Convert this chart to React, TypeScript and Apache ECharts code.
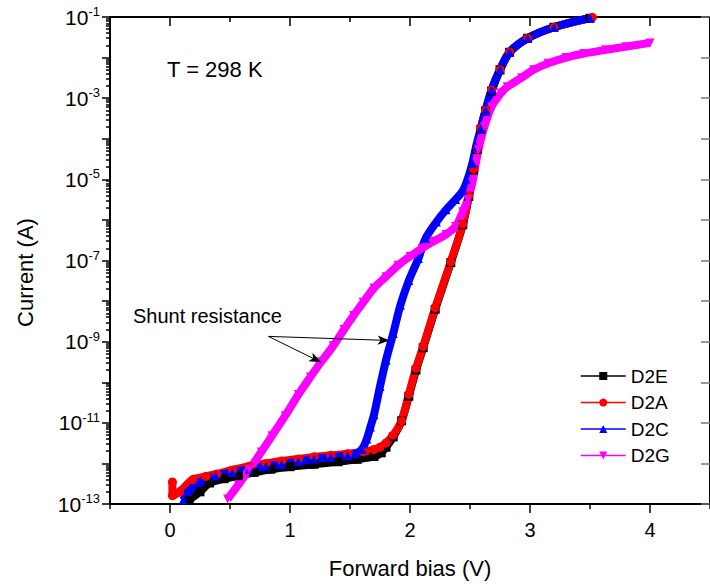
import React, { useEffect, useRef } from 'react';
import * as echarts from 'echarts';

// ---- data (voltage in V, current in A) ----
const d2eV = [0.16, 0.25, 0.33, 0.45, 0.57, 0.70, 0.84, 1.00, 1.20, 1.40, 1.56, 1.70, 1.76, 1.80, 1.86, 1.93, 1.99, 2.05, 2.11, 2.21, 2.34, 2.44, 2.49, 2.53, 2.56, 2.59, 2.63, 2.68, 2.75, 2.83, 2.98, 3.20, 3.50];
const d2eI = [1.26e-13, 2.0e-13, 3.3e-13, 4.2e-13, 4.9e-13, 6.0e-13, 7.2e-13, 8.3e-13, 9.5e-13, 1.1e-12, 1.26e-12, 1.48e-12, 1.82e-12, 2.5e-12, 4.5e-12, 1.12e-11, 4.5e-11, 2.0e-10, 7.1e-10, 6.3e-9, 8.9e-8, 7.6e-7, 3.8e-6, 1.7e-5, 5.4e-5, 1.7e-4, 4.8e-4, 1.5e-3, 5.0e-3, 1.35e-2, 3.0e-2, 5.6e-2, 9.3e-2];

const d2aV = [0.02, 0.02, 0.08, 0.19, 0.30, 0.39, 0.52, 0.66, 0.80, 0.93, 1.07, 1.20, 1.34, 1.48, 1.61, 1.70, 1.75, 1.80, 1.86, 1.93, 1.99, 2.05, 2.11, 2.21, 2.34, 2.44, 2.49, 2.53, 2.56, 2.59, 2.63, 2.68, 2.75, 2.83, 2.98, 3.20, 3.52];
const d2aI = [3.5e-13, 1.6e-13, 2.0e-13, 4.0e-13, 4.8e-13, 5.5e-13, 6.9e-13, 8.5e-13, 1.0e-12, 1.15e-12, 1.29e-12, 1.45e-12, 1.58e-12, 1.74e-12, 1.95e-12, 2.2e-12, 2.5e-12, 3.2e-12, 5.0e-12, 1.12e-11, 5.0e-11, 2.2e-10, 7.6e-10, 6.8e-9, 9.3e-8, 7.9e-7, 4.0e-6, 1.8e-5, 5.6e-5, 1.8e-4, 5.0e-4, 1.6e-3, 5.0e-3, 1.38e-2, 3.0e-2, 5.6e-2, 9.8e-2];

const d2cV = [0.11, 0.15, 0.25, 0.38, 0.52, 0.66, 0.80, 0.93, 1.07, 1.20, 1.34, 1.48, 1.55, 1.60, 1.64, 1.67, 1.70, 1.75, 1.80, 1.86, 1.92, 1.99, 2.07, 2.13, 2.22, 2.30, 2.38, 2.44, 2.48, 2.52, 2.55, 2.59, 2.63, 2.68, 2.75, 2.83, 2.98, 3.20, 3.50];
const d2cI = [1.26e-13, 2.0e-13, 3.5e-13, 4.9e-13, 6.0e-13, 7.2e-13, 8.5e-13, 9.5e-13, 1.12e-12, 1.29e-12, 1.41e-12, 1.55e-12, 1.74e-12, 2.24e-12, 4.0e-12, 7.9e-12, 1.58e-11, 7.9e-11, 3.5e-10, 1.58e-9, 7.9e-9, 3.2e-8, 1.12e-7, 3.5e-7, 8.9e-7, 1.78e-6, 3.2e-6, 5.2e-6, 1.0e-5, 2.5e-5, 6.3e-5, 1.78e-4, 5.0e-4, 1.58e-3, 5.0e-3, 1.35e-2, 3.0e-2, 5.6e-2, 9.5e-2];

const d2gV = [0.48, 0.57, 0.66, 0.76, 0.85, 0.96, 1.07, 1.17, 1.26, 1.36, 1.45, 1.53, 1.61, 1.70, 1.80, 1.90, 2.00, 2.10, 2.20, 2.30, 2.38, 2.44, 2.48, 2.52, 2.57, 2.62, 2.68, 2.76, 2.81, 2.93, 3.03, 3.15, 3.30, 3.45, 3.63, 3.80, 4.00];
const d2gI = [1.32e-13, 3.0e-13, 7.1e-13, 1.9e-12, 4.8e-12, 1.5e-11, 5.0e-11, 1.35e-10, 3.2e-10, 7.9e-10, 2.0e-9, 4.4e-9, 9.3e-9, 2.1e-8, 4.0e-8, 7.6e-8, 1.26e-7, 2.0e-7, 3.0e-7, 4.4e-7, 6.9e-7, 1.58e-6, 3.2e-6, 8.3e-6, 5.4e-5, 2.0e-4, 6.2e-4, 1.35e-3, 1.9e-3, 3.2e-3, 5.0e-3, 7.2e-3, 1.0e-2, 1.26e-2, 1.55e-2, 1.86e-2, 2.3e-2];

const seriesNames = ['D2E', 'D2A', 'D2C', 'D2G'];
const seriesColors = ['#000000', '#ff0000', '#0000ff', '#ff00ff'];

// axis ticks / labels
const xMin = -0.5;
const xMax = 4.5;
const xMajorTicks = [0, 1, 2, 3, 4];
const xMinorTicks = [-0.5, 0.5, 1.5, 2.5, 3.5, 4.5];
const yMinExp = -13;
const yMaxExp = -1;
const yLabelExps = [-13, -11, -9, -7, -5, -3, -1];
const yMinorMantissas = [2, 3, 4, 5, 6, 7, 8, 9];

// annotation (data coordinates: V, A)
const arrowStart = [0.82, 1.35e-9];
const arrowEnds = [[1.83, 1.07e-9], [1.26, 3.1e-10]];

const FONT = '"Liberation Sans", Arial, sans-serif';

const toPts = (v: number[], i: number[]) => v.map((x, k) => [x, Math.log10(i[k])]);

export default function App() {
  const ref = useRef<HTMLDivElement>(null);
  useEffect(() => {
    if (!ref.current) return;
    const chart = echarts.init(ref.current, undefined, { renderer: 'svg' });

    const yMinor: number[] = [];
    for (let e = yMinExp; e < yMaxExp; e++) {
      yMinorMantissas.forEach((m) => yMinor.push(e + Math.log10(m)));
    }

    const dataSets = [toPts(d2eV, d2eI), toPts(d2aV, d2aI), toPts(d2cV, d2cI), toPts(d2gV, d2gI)];
    const symbols = ['rect', 'circle', 'triangle', 'triangle'];
    const rotates = [0, 0, 0, 180];

    const series: any[] = dataSets.map((d, k) => ({
      name: seriesNames[k],
      type: 'line',
      data: d,
      xAxisIndex: 0,
      yAxisIndex: 0,
      smooth: 0.3,
      symbol: symbols[k],
      symbolRotate: rotates[k],
      symbolSize: 9,
      showSymbol: true,
      showAllSymbol: true,
      clip: true,
      lineStyle: { width: 8, color: seriesColors[k] },
      itemStyle: { color: seriesColors[k] },
      emphasis: { disabled: true },
    }));

    series[3].markLine = {
      silent: true,
      animation: false,
      symbol: ['none', 'arrow'],
      symbolSize: [7, 12],
      lineStyle: { color: '#000', width: 1, type: 'solid' },
      label: { show: false },
      emphasis: { disabled: true },
      data: arrowEnds.map((e) => [
        { coord: [arrowStart[0], Math.log10(arrowStart[1])] },
        { coord: [e[0], Math.log10(e[1])] },
      ]),
    };

    const axisLineStyle = { color: '#000', width: 2 };
    const tickStyle = { color: '#000', width: 1.5 };

    const option: any = {
      animation: false,
      grid: { left: 110, right: -8, top: 17, bottom: 79, containLabel: false },
      legend: {
        data: seriesNames,
        orient: 'vertical',
        left: 580,
        top: 366,
        padding: 0,
        itemWidth: 45,
        itemHeight: 10,
        itemGap: 6.5,
        lineStyle: { width: 1.5 },
        textStyle: { fontSize: 19, fontFamily: FONT, color: '#000', lineHeight: 20 },
        selectedMode: false,
      },
      xAxis: [
        {
          type: 'value', position: 'bottom', min: xMin, max: xMax,
          name: 'Forward bias (V)', nameLocation: 'middle', nameGap: 53,
          nameTextStyle: { fontSize: 22, fontFamily: FONT, color: '#000' },
          axisLine: { show: true, onZero: false, lineStyle: axisLineStyle },
          axisTick: { show: true, inside: false, length: 9, lineStyle: tickStyle, customValues: xMajorTicks },
          axisLabel: { show: true, margin: 16, fontSize: 20, fontFamily: FONT, color: '#000', customValues: xMajorTicks },
          splitLine: { show: false },
        },
        {
          type: 'value', position: 'bottom', min: xMin, max: xMax,
          axisLine: { show: false, onZero: false },
          axisTick: { show: true, inside: false, length: 5, lineStyle: tickStyle, customValues: xMinorTicks },
          axisLabel: { show: false },
          splitLine: { show: false },
        },
        {
          type: 'value', position: 'top', min: xMin, max: xMax,
          axisLine: { show: true, onZero: false, lineStyle: axisLineStyle },
          axisTick: { show: true, inside: true, length: 9, lineStyle: tickStyle, customValues: xMajorTicks },
          axisLabel: { show: false },
          splitLine: { show: false },
        },
        {
          type: 'value', position: 'top', min: xMin, max: xMax,
          axisLine: { show: false, onZero: false },
          axisTick: { show: true, inside: true, length: 5, lineStyle: tickStyle, customValues: xMinorTicks },
          axisLabel: { show: false },
          splitLine: { show: false },
        },
      ],
      yAxis: [
        {
          type: 'value', position: 'left', min: yMinExp, max: yMaxExp, interval: 1,
          name: 'Current (A)', nameLocation: 'middle', nameGap: 74, nameRotate: 90,
          nameTextStyle: { fontSize: 22, fontFamily: FONT, color: '#000', padding: [0, 24, 0, 0] },
          axisLine: { show: true, onZero: false, lineStyle: axisLineStyle },
          axisTick: { show: true, inside: false, length: 8, lineStyle: tickStyle },
          axisLabel: {
            show: true, margin: 10, showMinLabel: true, showMaxLabel: true,
            customValues: yLabelExps,
            formatter: (v: number) => `{b|10}{s|${Math.round(v)}}`,
            rich: {
              b: { fontSize: 21, fontFamily: FONT, color: '#000', lineHeight: 24 },
              s: { fontSize: 13, fontFamily: FONT, color: '#000', verticalAlign: 'top', lineHeight: 13 },
            },
          },
          splitLine: { show: false },
        },
        {
          type: 'value', position: 'left', min: yMinExp, max: yMaxExp,
          axisLine: { show: false, onZero: false },
          axisTick: { show: true, inside: false, length: 4, lineStyle: tickStyle, customValues: yMinor },
          axisLabel: { show: false },
          splitLine: { show: false },
        },
        {
          type: 'value', position: 'right', min: yMinExp, max: yMaxExp, interval: 1,
          axisLine: { show: true, onZero: false, lineStyle: axisLineStyle },
          axisTick: { show: true, inside: true, length: 9, lineStyle: { color: '#777', width: 1.5 } },
          axisLabel: { show: false },
          splitLine: { show: false },
        },
      ],
      graphic: [
        { type: 'text', left: 167, top: 58, style: { text: 'T = 298 K', fontSize: 22, fontFamily: FONT, fill: '#000' } },
        { type: 'text', left: 133, top: 306, style: { text: 'Shunt resistance', fontSize: 20, fontFamily: FONT, fill: '#000' } },
      ],
      series,
    };

    chart.setOption(option);
    return () => chart.dispose();
  }, []);

  return (
    <div
      ref={ref}
      style={{ position: 'fixed', left: 0, top: 0, width: 710, height: 584, background: '#fff' }}
    />
  );
}
